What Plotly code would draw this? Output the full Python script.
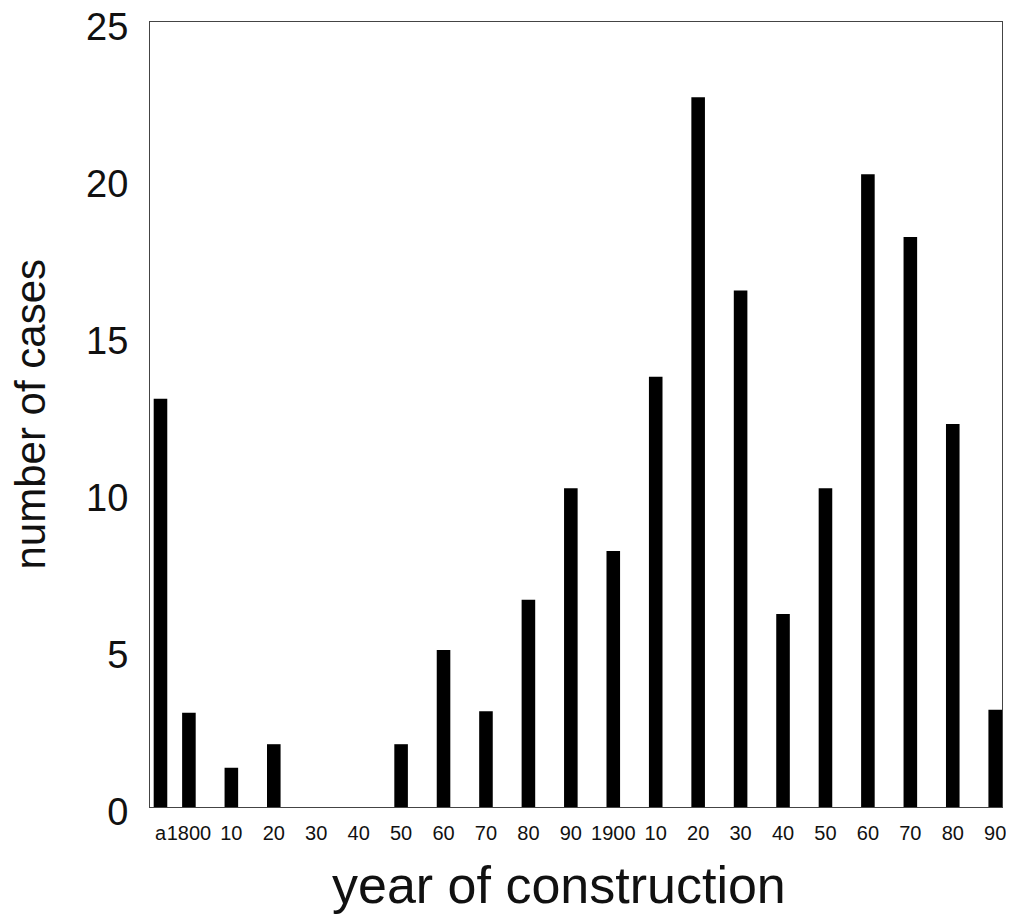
import plotly.graph_objects as go

# ---- data ----
pre_label = "a"              # built before 1800
pre_count = 13.0
decades = [1800, 1810, 1820, 1830, 1840, 1850, 1860, 1870, 1880, 1890,
           1900, 1910, 1920, 1930, 1940, 1950, 1960, 1970, 1980, 1990]
decade_labels = ["1800", "10", "20", "30", "40", "50", "60", "70", "80", "90",
                 "1900", "10", "20", "30", "40", "50", "60", "70", "80", "90"]
counts = [3.0, 1.25, 2.0, 0, 0, 2.0, 5.0, 3.05, 6.6, 10.15,
          8.15, 13.7, 22.6, 16.45, 6.15, 10.15, 20.15, 18.15, 12.2, 3.1]
y_ticks = [0, 5, 10, 15, 20, 25]
x_title = "year of construction"
y_title = "number of cases"

# ---- style ----
BAR_W = 3.2          # in years
PRE_OFFSET = -8.3    # shift of the "before 1800" bar relative to the 1800 slot
FONT = "Liberation Sans, Arial, sans-serif"

fig = go.Figure()
fig.add_trace(go.Bar(x=decades, y=counts, width=BAR_W,
                     marker=dict(color="black", line=dict(width=0)),
                     showlegend=False))
fig.add_trace(go.Bar(x=[decades[0]], y=[pre_count], width=BAR_W, offset=PRE_OFFSET,
                     marker=dict(color="black", line=dict(width=0)),
                     showlegend=False))

pre_center = decades[0] + PRE_OFFSET + BAR_W / 2

fig.update_layout(
    width=1006, height=909,
    margin=dict(l=142, r=12, t=14, b=110, autoexpand=False),
    paper_bgcolor="white", plot_bgcolor="white",
    barmode="overlay",
    font=dict(family=FONT, color="black"),
    xaxis=dict(
        range=[1790.83, 1991.6],
        tickmode="array",
        tickvals=[pre_center] + decades,
        ticktext=[pre_label] + decade_labels,
        tickangle=0,
        tickfont=dict(size=20, family=FONT, color="#111"),
        ticks="", ticklabelstandoff=8, ticklabeloverflow="allow",
        showgrid=False, zeroline=False, automargin=False,
        showline=True, mirror=True, linecolor="#444", linewidth=1,
    ),
    yaxis=dict(
        range=[0, 25],
        tickmode="array", tickvals=y_ticks,
        tickfont=dict(size=38, family=FONT, color="#111"),
        ticks="", ticklabelstandoff=13, ticklabelshift=5,
        ticklabeloverflow="allow",
        showgrid=False, zeroline=False, automargin=False,
        showline=True, mirror=True, linecolor="#444", linewidth=1,
    ),
    annotations=[
        dict(text=x_title, xref="paper", yref="paper", x=0.5, y=0,
             xanchor="center", yanchor="middle", yshift=-78, xshift=-17,
             showarrow=False, font=dict(size=52, family=FONT, color="#111")),
        dict(text=y_title, xref="paper", yref="paper", x=0, y=0.5,
             xanchor="center", yanchor="middle", xshift=-120, textangle=-90,
             showarrow=False, font=dict(size=42, family=FONT, color="#111")),
    ],
)

fig.write_html("out.html")
